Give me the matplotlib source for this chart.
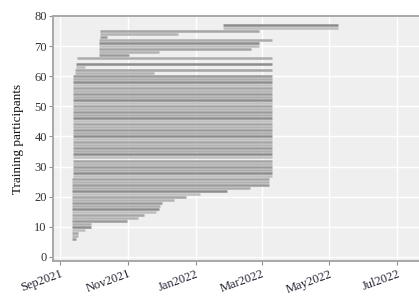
import matplotlib
matplotlib.use('Agg')
import matplotlib.pyplot as plt
import matplotlib.dates as mdates
import pandas as pd

plt.rcParams['font.family'] = ['Liberation Serif', 'DejaVu Serif']

# one row per participant: id, first and last training date
participants = [6, 7, 8, 9, 10, 11, 12, 13, 14, 15, 16, 17, 18, 19, 20,
                21, 22, 23, 24, 25, 26,
                27, 28, 29, 30, 31, 32, 33, 34, 35, 36, 37, 38, 39, 40,
                41, 42, 43, 44, 45, 46, 47, 48, 49, 50, 51, 52, 53, 54,
                55, 56, 57, 58, 59, 60,
                61, 62, 63, 64, 66, 67, 68, 69, 70, 71, 72, 73, 74, 75, 76, 77]

starts = ['2021-09-12', '2021-09-12', '2021-09-12', '2021-09-12', '2021-09-12',
          '2021-09-12', '2021-09-12', '2021-09-12', '2021-09-12', '2021-09-12',
          '2021-09-12', '2021-09-12', '2021-09-12', '2021-09-12', '2021-09-12',
          '2021-09-12', '2021-09-12', '2021-09-12', '2021-09-12', '2021-09-12',
          '2021-09-12',
          '2021-09-13', '2021-09-13', '2021-09-13', '2021-09-13', '2021-09-13',
          '2021-09-13', '2021-09-13', '2021-09-13', '2021-09-13', '2021-09-13',
          '2021-09-13', '2021-09-13', '2021-09-13', '2021-09-13', '2021-09-13',
          '2021-09-13', '2021-09-13', '2021-09-13', '2021-09-13', '2021-09-13',
          '2021-09-13', '2021-09-13', '2021-09-13', '2021-09-13', '2021-09-13',
          '2021-09-13', '2021-09-13', '2021-09-13', '2021-09-13', '2021-09-13',
          '2021-09-13', '2021-09-13', '2021-09-13', '2021-09-13',
          '2021-09-14', '2021-09-14', '2021-09-15', '2021-09-15', '2021-09-16',
          '2021-10-06', '2021-10-06', '2021-10-06', '2021-10-06', '2021-10-06',
          '2021-10-06', '2021-10-07', '2021-10-07', '2021-10-07',
          '2022-01-25', '2022-01-25']

ends = ['2021-09-15', '2021-09-17', '2021-09-17', '2021-09-23', '2021-09-29',
        '2021-09-29', '2021-10-31', '2021-11-10', '2021-11-15', '2021-11-26',
        '2021-11-29', '2021-11-30', '2021-12-02', '2021-12-12', '2021-12-23',
        '2022-01-05', '2022-01-29', '2022-02-19', '2022-03-08', '2022-03-08',
        '2022-03-08',
        '2022-03-10', '2022-03-10', '2022-03-10', '2022-03-10', '2022-03-10',
        '2022-03-10', '2022-03-10', '2022-03-10', '2022-03-10', '2022-03-10',
        '2022-03-10', '2022-03-10', '2022-03-10', '2022-03-10', '2022-03-10',
        '2022-03-10', '2022-03-10', '2022-03-10', '2022-03-10', '2022-03-10',
        '2022-03-10', '2022-03-10', '2022-03-10', '2022-03-10', '2022-03-10',
        '2022-03-10', '2022-03-10', '2022-03-10', '2022-03-10', '2022-03-10',
        '2022-03-10', '2022-03-10', '2022-03-10', '2022-03-10',
        '2021-11-24', '2022-03-10', '2021-09-23', '2022-03-10', '2022-03-10',
        '2021-11-02', '2021-11-29', '2022-02-20', '2022-02-27', '2022-02-27',
        '2022-03-10', '2021-10-13', '2021-12-16', '2022-02-27',
        '2022-05-09', '2022-05-09']

grays = ['#9a9a9a', '#b2b2b2', '#a4a4a4', '#bebebe', '#8c8c8c', '#acacac']

df = pd.DataFrame({'id': participants,
                   'start': pd.to_datetime(starts),
                   'end': pd.to_datetime(ends)})
colors = [grays[i % len(grays)] for i in range(len(df))]

fig = plt.figure(figsize=(4.19, 2.96), dpi=100)
ax = fig.add_axes([0.1265, 0.118, 0.8735, 0.828])
ax.set_facecolor('#efefef')

ax.hlines(df['id'], df['start'], df['end'], colors=colors, lw=1.8, zorder=3)

ax.set_ylim(-1.4, 79.1)
ax.set_yticks(range(0, 81, 10))
ax.set_xlim(pd.Timestamp('2021-08-25 16:00'), pd.Timestamp('2022-07-20 12:00'))
ax.xaxis.set_major_locator(mdates.MonthLocator(bymonth=[1, 3, 5, 7, 9, 11]))
ax.xaxis.set_major_formatter(mdates.DateFormatter('%b%Y'))

ax.grid(True, color='white', lw=1.0, zorder=0)
ax.set_axisbelow(True)

for side in ['left', 'top', 'bottom']:
    ax.spines[side].set_color('#a8a8a8')
    ax.spines[side].set_linewidth(1.4)
ax.spines['right'].set_visible(False)

ax.tick_params(axis='y', colors='#909090', labelcolor='#333333', labelsize=9,
               length=3, width=0.8, pad=1.5)
ax.tick_params(axis='x', colors='#909090', labelcolor='#222233', labelsize=9,
               length=3, width=0.8, pad=2)
for lbl in ax.get_xticklabels():
    lbl.set_rotation(20)
    lbl.set_ha('right')
    lbl.set_rotation_mode('anchor')

ax.set_ylabel('Training participants', fontsize=9.5, color='#111111', labelpad=7)

fig.savefig('out.png', dpi=100)
